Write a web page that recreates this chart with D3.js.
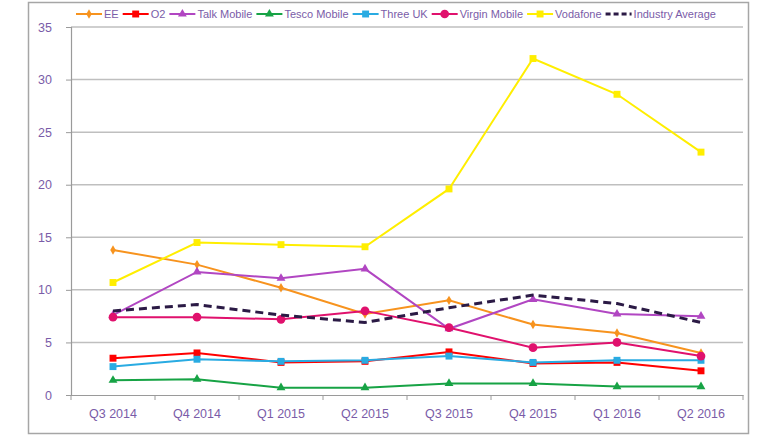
<!DOCTYPE html>
<html>
<head>
<meta charset="utf-8">
<script src="https://cdn.jsdelivr.net/npm/d3@7"></script>
<style>
  body { margin: 0; background: #fff; }
  svg { font-family: "Liberation Sans", Arial, sans-serif; }
</style>
</head>
<body>
<div id="chart"></div>
<script>
const quarters = ['Q3 2014', 'Q4 2014', 'Q1 2015', 'Q2 2015', 'Q3 2015', 'Q4 2015', 'Q1 2016', 'Q2 2016'];
const yTicks = [0, 5, 10, 15, 20, 25, 30, 35];

const ee = [13.8, 12.4, 10.2, 7.7, 9.0, 6.7, 5.9, 4.0];
const o2 = [3.5, 4.0, 3.1, 3.2, 4.1, 3.0, 3.1, 2.3];
const talkMobile = [7.6, 11.7, 11.1, 12.0, 6.3, 9.1, 7.7, 7.5];
const tescoMobile = [1.4, 1.5, 0.7, 0.7, 1.1, 1.1, 0.8, 0.8];
const threeUK = [2.7, 3.4, 3.2, 3.3, 3.7, 3.1, 3.3, 3.3];
const virginMobile = [7.4, 7.4, 7.2, 8.0, 6.4, 4.5, 5.0, 3.7];
const vodafone = [10.7, 14.5, 14.3, 14.1, 19.6, 32.0, 28.6, 23.1];
const industryAverage = [8.0, 8.6, 7.6, 6.9, 8.3, 9.5, 8.7, 6.9];

const series = [
  { name: 'EE', values: ee, color: '#f7931e', marker: 'diamond' },
  { name: 'O2', values: o2, color: '#ff0000', marker: 'square' },
  { name: 'Talk Mobile', values: talkMobile, color: '#b146c2', marker: 'triangle' },
  { name: 'Tesco Mobile', values: tescoMobile, color: '#17a345', marker: 'triangle' },
  { name: 'Three UK', values: threeUK, color: '#29abe2', marker: 'square' },
  { name: 'Virgin Mobile', values: virginMobile, color: '#e0116d', marker: 'circle' },
  { name: 'Vodafone', values: vodafone, color: '#ffee00', marker: 'square' },
  { name: 'Industry Average', values: industryAverage, color: '#2b1a45', marker: null, dash: '8,5' },
];

const W = 777, H = 437;
const margin = { left: 71, right: 34, top: 27, bottom: 42 };
const width = W - margin.left - margin.right;
const height = H - margin.top - margin.bottom;
const textColor = '#7a5ca8';

const svg = d3.select('#chart').append('svg')
  .attr('width', W)
  .attr('height', H);

// outer frame
svg.append('rect')
  .attr('x', 28.5).attr('y', 2.5)
  .attr('width', 720).attr('height', 431)
  .attr('fill', 'none')
  .attr('stroke', '#a6a6a6')
  .attr('stroke-width', 1.5);

const g = svg.append('g').attr('transform', `translate(${margin.left},${margin.top})`);

const x = d3.scaleBand().domain(quarters).range([0, width]);
const y = d3.scaleLinear().domain([0, 35]).range([height, 0]);

// gridlines
g.append('g')
  .selectAll('line')
  .data(yTicks.filter(d => d > 0))
  .enter()
  .append('line')
  .attr('x1', 0).attr('x2', width)
  .attr('y1', d => y(d)).attr('y2', d => y(d))
  .attr('stroke', '#bfbfbf')
  .attr('stroke-width', 1.5);

// axes
const yAxis = g.append('g').call(d3.axisLeft(y).tickValues(yTicks).tickSize(5).tickPadding(14));
const xAxis = g.append('g').attr('transform', `translate(0,${height})`)
  .call(d3.axisBottom(x).tickSize(0).tickPadding(14));

[yAxis, xAxis].forEach(ax => {
  ax.select('.domain').attr('stroke', '#9a9a9a').attr('stroke-width', 1.2);
  ax.selectAll('.tick line').attr('stroke', '#9a9a9a');
  ax.selectAll('text').attr('fill', textColor).style('font-size', '12.5px');
});

// x tick marks at band edges
g.append('g')
  .selectAll('line')
  .data(d3.range(quarters.length + 1))
  .enter()
  .append('line')
  .attr('x1', i => i * x.bandwidth()).attr('x2', i => i * x.bandwidth())
  .attr('y1', height).attr('y2', height + 5)
  .attr('stroke', '#9a9a9a');

const cx = i => x(quarters[i]) + x.bandwidth() / 2;

const symbolFor = m => ({
  diamond: d3.symbol().type(d3.symbolDiamond).size(26),
  square: d3.symbol().type(d3.symbolSquare).size(48),
  triangle: d3.symbol().type(d3.symbolTriangle).size(34),
  circle: d3.symbol().type(d3.symbolCircle).size(60),
})[m];

const line = d3.line().x((d, i) => cx(i)).y(d => y(d));

series.forEach(s => {
  g.append('path')
    .datum(s.values)
    .attr('fill', 'none')
    .attr('stroke', s.color)
    .attr('stroke-width', s.dash ? 3 : 2)
    .attr('stroke-dasharray', s.dash || null)
    .attr('d', line);
  if (s.marker) {
    g.append('g')
      .selectAll('path')
      .data(s.values)
      .enter()
      .append('path')
      .attr('transform', (d, i) => `translate(${cx(i)},${y(d)})`)
      .attr('d', symbolFor(s.marker)())
      .attr('fill', s.color);
  }
});

// legend
const legend = svg.append('g').attr('transform', 'translate(76,14)');
let lx = 0;
series.forEach(s => {
  const item = legend.append('g').attr('transform', `translate(${lx},0)`);
  item.append('line')
    .attr('x1', 0).attr('x2', 26)
    .attr('y1', 0).attr('y2', 0)
    .attr('stroke', s.color)
    .attr('stroke-width', s.dash ? 3 : 2)
    .attr('stroke-dasharray', s.dash ? '5,3' : null);
  if (s.marker) {
    item.append('path')
      .attr('transform', 'translate(13,0)')
      .attr('d', symbolFor(s.marker)())
      .attr('fill', s.color);
  }
  const t = item.append('text')
    .attr('x', 28)
    .attr('y', 4)
    .attr('fill', textColor)
    .style('font-size', '11px')
    .text(s.name);
  lx += 28 + t.node().getComputedTextLength() + 4;
});
</script>
</body>
</html>
